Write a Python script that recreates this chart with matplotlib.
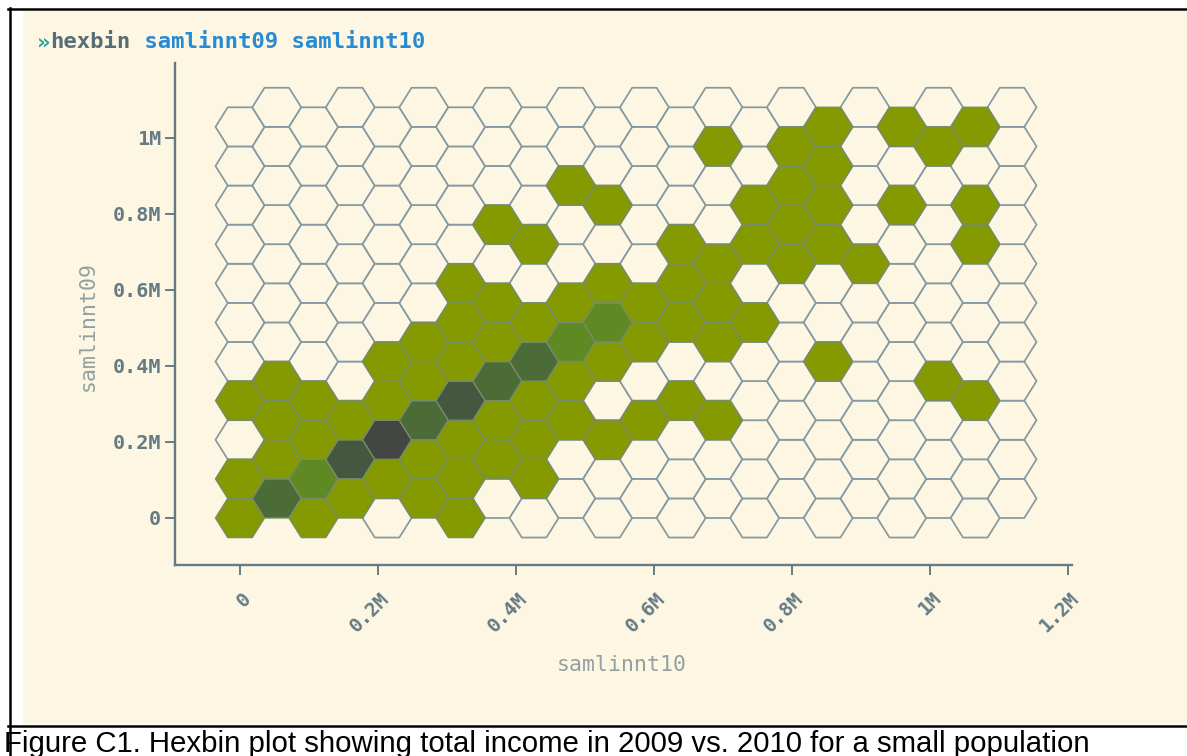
import numpy as np
import matplotlib
matplotlib.use("Agg")
import matplotlib.pyplot as plt
from matplotlib.collections import PolyCollection
from matplotlib.patches import Rectangle
from matplotlib.lines import Line2D
from matplotlib.transforms import ScaledTranslation

# hex cell count levels (0 = empty), rows listed top -> bottom, 22 columns
counts = [
    [0, 0, 0, 0, 0, 0, 0, 0, 0, 0, 0, 0, 0, 0, 0, 0, 1, 0, 1, 0, 1, 0],
    [0, 0, 0, 0, 0, 0, 0, 0, 0, 0, 0, 0, 0, 1, 0, 1, 1, 0, 0, 1, 0, 0],
    [0, 0, 0, 0, 0, 0, 0, 0, 0, 1, 1, 0, 0, 0, 1, 1, 1, 0, 1, 0, 1, 0],
    [0, 0, 0, 0, 0, 0, 0, 1, 1, 0, 0, 0, 1, 0, 1, 1, 1, 0, 0, 0, 1, 0],
    [0, 0, 0, 0, 0, 0, 1, 0, 0, 0, 1, 0, 1, 1, 0, 1, 0, 1, 0, 0, 0, 0],
    [0, 0, 0, 0, 0, 0, 1, 1, 1, 1, 2, 1, 1, 1, 1, 0, 0, 0, 0, 0, 0, 0],
    [0, 0, 0, 0, 1, 1, 1, 1, 3, 2, 1, 1, 0, 1, 0, 0, 1, 0, 0, 0, 0, 0],
    [1, 1, 1, 0, 1, 1, 4, 3, 1, 1, 0, 0, 1, 0, 0, 0, 0, 0, 0, 1, 1, 0],
    [0, 1, 1, 1, 5, 3, 1, 1, 1, 1, 1, 1, 0, 1, 0, 0, 0, 0, 0, 0, 0, 0],
    [1, 1, 2, 4, 1, 1, 1, 1, 1, 0, 0, 0, 0, 0, 0, 0, 0, 0, 0, 0, 0, 0],
    [1, 3, 1, 1, 0, 1, 1, 0, 0, 0, 0, 0, 0, 0, 0, 0, 0, 0, 0, 0, 0, 0],
]
x_ticks = [0, 200000, 400000, 600000, 800000, 1000000, 1200000]
x_labels = ["0", "0.2M", "0.4M", "0.6M", "0.8M", "1M", "1.2M"]
y_ticks = [0, 200000, 400000, 600000, 800000, 1000000]
y_labels = ["0", "0.2M", "0.4M", "0.6M", "0.8M", "1M"]

level_colors = ["#fdf6e3", "#859900", "#5f8a23", "#4b6b37", "#445840", "#434643"]
bg = "#fdf6e3"
base00 = "#657b83"
base1 = "#93a1a1"

col_step = 53280.0
row_step = 102900.0
half_w = col_step / 1.5
half_h = row_step / 2

W, H = 1187, 756
fig = plt.figure(figsize=(W / 100, H / 100), dpi=100)
fig.patch.set_facecolor("white")

def fx(px):
    return px / W

def fy(py):
    return 1 - py / H

fig.patches.append(Rectangle((fx(23), fy(724)), fx(1187) - fx(23), (724 - 11) / H,
                             transform=fig.transFigure, facecolor=bg, edgecolor="none", zorder=-5))
for xs, ys in [([8, 1187], [9, 9]), ([10, 10], [8, 756]), ([8, 1187], [726, 726])]:
    fig.lines.append(Line2D([fx(v) for v in xs], [fy(v) for v in ys], transform=fig.transFigure,
                            color="black", lw=1.8, zorder=-4))

ax = fig.add_axes([fx(175), fy(565), fx(1072) - fx(175), (565 - 63) / H])
ax.set_facecolor("none")

grid = np.array(counts)[::-1]
nrows, ncols = grid.shape
empty_v, full_v, full_c = [], [], []
for r in range(nrows):
    for c in range(ncols):
        cx = c * col_step
        cy = r * row_step + (half_h if c % 2 else 0)
        v = [(cx + half_w, cy), (cx + half_w / 2, cy + half_h), (cx - half_w / 2, cy + half_h),
             (cx - half_w, cy), (cx - half_w / 2, cy - half_h), (cx + half_w / 2, cy - half_h)]
        if grid[r, c] == 0:
            empty_v.append(v)
        else:
            full_v.append(v)
            full_c.append(level_colors[grid[r, c]])

ax.add_collection(PolyCollection(empty_v, facecolors=bg, edgecolors="#8499a0", linewidths=1.25))
ax.add_collection(PolyCollection(full_v, facecolors=full_c, edgecolors="#768c68", linewidths=1.0))

ax.set_xlim(-94200, 1205800)
ax.set_ylim(-123700, 1197000)
for s in ["top", "right"]:
    ax.spines[s].set_visible(False)
for s in ["left", "bottom"]:
    ax.spines[s].set_color(base00)
    ax.spines[s].set_linewidth(1.7)

ax.set_xticks(x_ticks)
ax.set_xticklabels(x_labels)
ax.set_yticks(y_ticks)
ax.set_yticklabels(y_labels)
ax.tick_params(axis="both", colors=base00, length=7, width=1.4)
ax.tick_params(axis="x", pad=15)
ax.tick_params(axis="y", pad=3)
for lab in ax.get_yticklabels():
    lab.set_fontfamily("DejaVu Sans Mono")
    lab.set_fontweight("bold")
    lab.set_fontsize(14.5)
shift = ScaledTranslation(8 / 100, 0, fig.dpi_scale_trans)
for lab in ax.get_xticklabels():
    lab.set_fontfamily("DejaVu Sans Mono")
    lab.set_fontweight("bold")
    lab.set_fontsize(14)
    lab.set_rotation(45)
    lab.set_rotation_mode("anchor")
    lab.set_ha("right")
    lab.set_va("center")
    lab.set_transform(lab.get_transform() + shift)

fig.text(fx(622), fy(665), "samlinnt10", color=base1, fontsize=15.5, family="DejaVu Sans Mono",
         ha="center", va="center")
fig.text(fx(88), fy(326), "samlinnt09", color=base1, fontsize=15.5, family="DejaVu Sans Mono",
         ha="center", va="center", rotation=90)

# title in three coloured pieces (monospace, so offset by character width)
tsize = 16
cw = 0.602 * tsize * 100 / 72
x0 = 37
parts = [("»", "#2aa198"), ("hexbin", "#586e75"), (" samlinnt09 samlinnt10", "#268bd2")]
for txt, col in parts:
    fig.text(fx(x0), fy(42), txt, color=col, fontsize=tsize, family="DejaVu Sans Mono",
             fontweight="bold", ha="left", va="center")
    x0 += cw * len(txt)

fig.text(fx(4), fy(744), "Figure C1. Hexbin plot showing total income in 2009 vs. 2010 for a small population",
         color="black", fontsize=21.2, family="Liberation Sans", ha="left", va="center")

fig.savefig("out.png", dpi=100, facecolor="white")
